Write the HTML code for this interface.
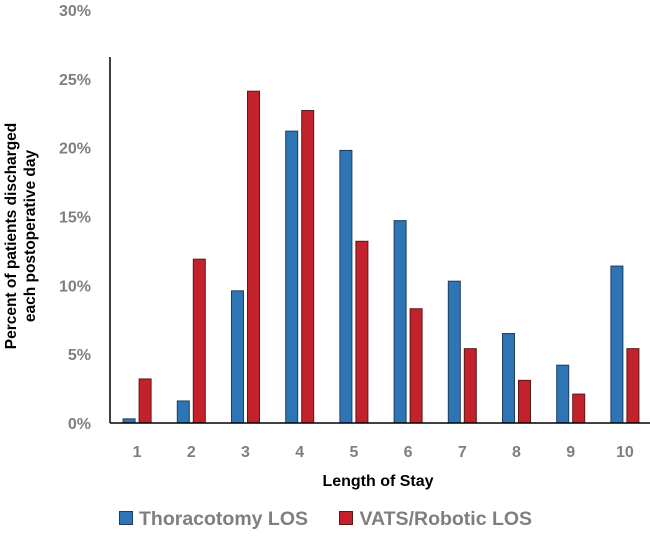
<!DOCTYPE html>
<html><head><meta charset="utf-8"><style>
body{margin:0;background:#fff;}
svg text{font-family:"Liberation Sans",sans-serif;}
</style></head><body>
<svg id="chart" width="650" height="533" xmlns="http://www.w3.org/2000/svg"></svg>
<script>
const categories=["1","2","3","4","5","6","7","8","9","10"];
const thoracotomy=[0.3,1.6,9.6,21.2,19.8,14.7,10.3,6.5,4.2,11.4];
const vats=[3.2,11.9,24.1,22.7,13.2,8.3,5.4,3.1,2.1,5.4];
const yTicks=[0,5,10,15,20,25,30];
const yTickLabels=["0%","5%","10%","15%","20%","25%","30%"];
const NS="http://www.w3.org/2000/svg";
const svg=document.getElementById('chart');
const x0=110,x1=652,y0=423,yTop=10;
const y=v=>y0-(v/30)*(y0-yTop);
const band=(x1-x0)/categories.length;
const cx=i=>x0+band*(i+0.5);
function mk(t,a){const e=document.createElementNS(NS,t);for(const k in a)e.setAttribute(k,a[k]);svg.appendChild(e);return e;}
yTicks.forEach((t,i)=>{const e=mk('text',{x:91,y:y(t)+6,'text-anchor':'end','font-size':16,'font-weight':'bold',fill:'#7f7f7f'});e.textContent=yTickLabels[i];

});
categories.forEach((c,i)=>{
const b=mk('rect',{x:cx(i)-14,y:y(thoracotomy[i]),width:12,height:y0-y(thoracotomy[i]),fill:'#2e75b6',stroke:'#1f3d5c','stroke-width':1});


const r=mk('rect',{x:cx(i)+2,y:y(vats[i]),width:12,height:y0-y(vats[i]),fill:'#c3212b',stroke:'#5a1a1a','stroke-width':1});


const t=mk('text',{x:cx(i),y:457,'text-anchor':'middle','font-size':16,'font-weight':'bold',fill:'#7f7f7f'});t.textContent=c;


});
const ya=mk('line',{x1:x0,y1:57,x2:x0,y2:y0,stroke:'#000','stroke-width':1.5});


const xa=mk('line',{x1:x0,y1:y0,x2:650,y2:y0,stroke:'#000','stroke-width':1.5});


const xt=mk('text',{x:378,y:486,'text-anchor':'middle','font-size':16,'font-weight':'bold',fill:'#000'});xt.textContent='Length of Stay';


</script>
<div style="position:absolute;left:21px;top:236px;width:0;height:0;">
<div style="position:absolute;transform:translate(-50%,-50%) rotate(-90deg);white-space:nowrap;text-align:center;font:bold 15.5px 'Liberation Sans',sans-serif;line-height:19px;">Percent of patients discharged<br>each postoperative day</div></div>
<div style="position:absolute;left:119px;top:507px;font:bold 19.5px 'Liberation Sans',sans-serif;line-height:24px;color:#7f7f7f;white-space:nowrap;">
<span><span style="display:inline-block;width:12px;height:12px;background:#2e75b6;border:1px solid #1f3d5c;vertical-align:0px;margin-right:6px;"></span>Thoracotomy LOS</span>
<span style="margin-left:26px;"><span style="display:inline-block;width:12px;height:12px;background:#c3212b;border:1px solid #5a1a1a;vertical-align:0px;margin-right:6px;"></span>VATS/Robotic LOS</span>
</div>
</body></html>
